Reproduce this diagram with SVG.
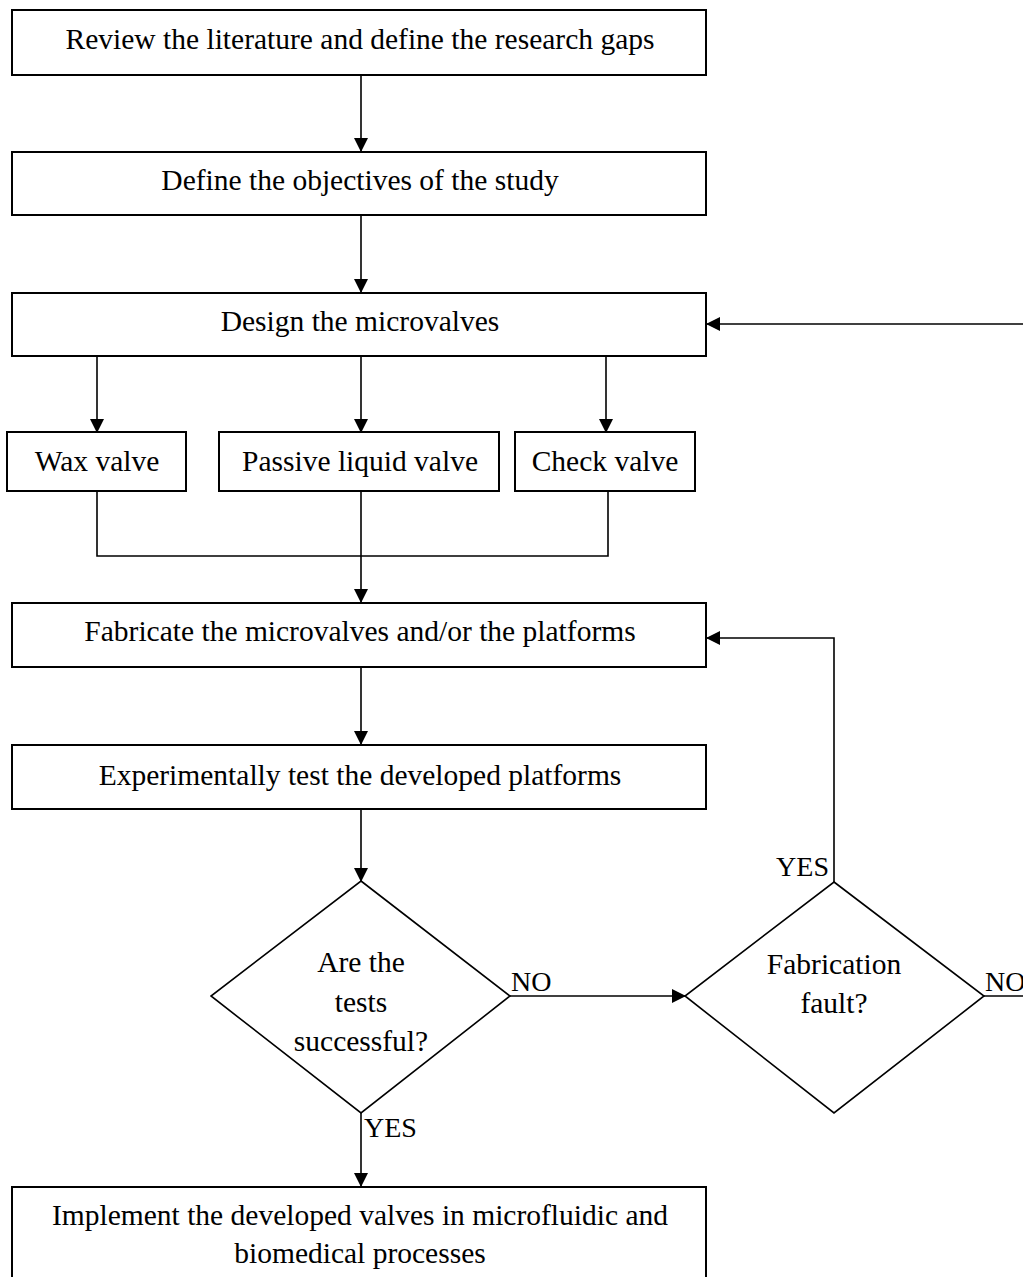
<svg xmlns="http://www.w3.org/2000/svg" width="1023" height="1277" viewBox="0 0 1023 1277">
<style>
.box{fill:#fff;stroke:#000;stroke-width:2}
.dia{fill:#fff;stroke:#000;stroke-width:1.6}
.t{font-family:"Liberation Serif","Times New Roman",serif;font-size:29.5px;fill:#000;text-anchor:middle}
.l{font-family:"Liberation Serif","Times New Roman",serif;font-size:28px;fill:#000}
.c{fill:none;stroke:#000;stroke-width:1.6}
</style>
<defs>
<marker id="ah" markerWidth="14" markerHeight="14" viewBox="0 0 14 14" refX="13" refY="7" orient="auto" markerUnits="userSpaceOnUse">
<path d="M0,0 L14,7 L0,14 Z" fill="#000"/>
</marker>
</defs>
<g id="connectors">
<line class="c" x1="361" y1="75" x2="361" y2="151" marker-end="url(#ah)"/>
<line class="c" x1="361" y1="215" x2="361" y2="292" marker-end="url(#ah)"/>
<line class="c" x1="1023" y1="324" x2="707" y2="324" marker-end="url(#ah)"/>
<line class="c" x1="97" y1="356" x2="97" y2="432" marker-end="url(#ah)"/>
<line class="c" x1="361" y1="356" x2="361" y2="432" marker-end="url(#ah)"/>
<line class="c" x1="606" y1="356" x2="606" y2="432" marker-end="url(#ah)"/>
<polyline class="c" points="97,491 97,556 608,556 608,491"/>
<line class="c" x1="361" y1="491" x2="361" y2="602" marker-end="url(#ah)"/>
<line class="c" x1="361" y1="667" x2="361" y2="744" marker-end="url(#ah)"/>
<line class="c" x1="361" y1="809" x2="361" y2="881" marker-end="url(#ah)"/>
<line class="c" x1="510" y1="996" x2="685" y2="996" marker-end="url(#ah)"/>
<line class="c" x1="361" y1="1113" x2="361" y2="1186" marker-end="url(#ah)"/>
<polyline class="c" points="834,882 834,638 707,638" marker-end="url(#ah)"/>
<line class="c" x1="984" y1="996" x2="1023" y2="996"/>
<text class="l" x="511" y="991">NO</text>
<text class="l" x="364" y="1137">YES</text>
<text class="l" x="829" y="876" text-anchor="end">YES</text>
<text class="l" x="985" y="991">NO</text>
</g>
<g id="n1"><rect class="box" x="12" y="10" width="694" height="65"/><text class="t" x="360" y="49">Review the literature and define the research gaps</text></g>
<g id="n2"><rect class="box" x="12" y="152" width="694" height="63"/><text class="t" x="360" y="190">Define the objectives of the study</text></g>
<g id="n3"><rect class="box" x="12" y="293" width="694" height="63"/><text class="t" x="360" y="331">Design the microvalves</text></g>
<g id="wax"><rect class="box" x="7" y="432" width="179" height="59"/><text class="t" x="97" y="471">Wax valve</text></g>
<g id="passive"><rect class="box" x="219" y="432" width="280" height="59"/><text class="t" x="360" y="471">Passive liquid valve</text></g>
<g id="check"><rect class="box" x="515" y="432" width="180" height="59"/><text class="t" x="605" y="471">Check valve</text></g>
<g id="n4"><rect class="box" x="12" y="603" width="694" height="64"/><text class="t" x="360" y="641">Fabricate the microvalves and/or the platforms</text></g>
<g id="n5"><rect class="box" x="12" y="745" width="694" height="64"/><text class="t" x="360" y="785">Experimentally test the developed platforms</text></g>
<g id="d1"><polygon class="dia" points="361,881 510,996 361,1113 211,996"/><text class="t" x="361" y="972">Are the</text><text class="t" x="361" y="1012">tests</text><text class="t" x="361" y="1051">successful?</text></g>
<g id="d2"><polygon class="dia" points="834,882 984,996 834,1113 685,996"/><text class="t" x="834" y="974">Fabrication</text><text class="t" x="834" y="1013">fault?</text></g>
<g id="n6"><rect class="box" x="12" y="1187" width="694" height="110"/><text class="t" x="360" y="1225">Implement the developed valves in microfluidic and</text><text class="t" x="360" y="1263">biomedical processes</text></g>
</svg>
